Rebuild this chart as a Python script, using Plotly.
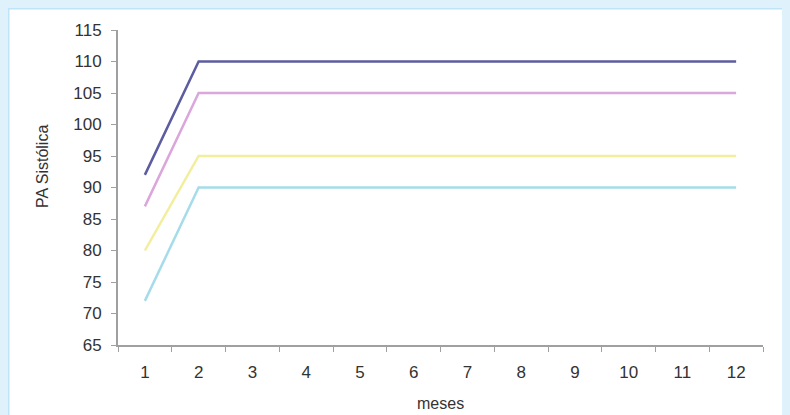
import plotly.graph_objects as go

meses = ["1", "2", "3", "4", "5", "6", "7", "8", "9", "10", "11", "12"]
serie_roxa = [92, 110, 110, 110, 110, 110, 110, 110, 110, 110, 110, 110]
serie_rosa = [87, 105, 105, 105, 105, 105, 105, 105, 105, 105, 105, 105]
serie_amarela = [80, 95, 95, 95, 95, 95, 95, 95, 95, 95, 95, 95]
serie_ciano = [72, 90, 90, 90, 90, 90, 90, 90, 90, 90, 90, 90]
y_ticks = [65, 70, 75, 80, 85, 90, 95, 100, 105, 110, 115]

# the page body keeps its 8px margin, so the figure starts at (8, 8)
W, H = 782, 407
ML, MR, MT, MB = 110, 27, 22, 70
FONT = "Liberation Sans, Arial, sans-serif"
TXT = "#333333"

fig = go.Figure()
for vals, col in [
    (serie_ciano, "#a6dcea"),
    (serie_amarela, "#f3ee9c"),
    (serie_rosa, "#dba6dc"),
    (serie_roxa, "#5c5ca0"),
]:
    fig.add_trace(go.Scatter(x=meses, y=vals, mode="lines",
                             line=dict(color=col, width=2.5),
                             hoverinfo="skip", showlegend=False))

pw, ph = W - ML - MR, H - MT - MB
def px_x(px):
    return (px - ML) / pw
def px_y(py):
    return (H - MB - py) / ph

fig.update_layout(
    width=W, height=H,
    margin=dict(l=ML, r=MR, t=MT, b=MB),
    paper_bgcolor="#ffffff",
    plot_bgcolor="rgba(0,0,0,0)",
    font=dict(family=FONT, size=17, color=TXT),
    showlegend=False,
    xaxis=dict(
        type="category", range=[-0.5, 11.5],
        showgrid=False, zeroline=False,
        showline=True, linecolor="#a0a0a0", linewidth=2,
        ticks="outside", tickson="boundaries", ticklen=5, tickwidth=1,
        tickcolor="#a0a0a0",
        tickfont=dict(size=17, color=TXT),
        ticklabelstandoff=11,
    ),
    yaxis=dict(
        range=[65, 115], tickvals=y_ticks,
        showgrid=False, zeroline=False,
        showline=True, linecolor="#a0a0a0", linewidth=2,
        ticks="outside", ticklen=5, tickwidth=1, tickcolor="#a0a0a0",
        tickfont=dict(size=17, color=TXT),
        ticklabelstandoff=6,
    ),
    shapes=[
        dict(type="rect", xref="paper", yref="paper",
             x0=px_x(0.5), x1=px_x(W + 20), y0=px_y(H + 20), y1=px_y(0.5),
             layer="below", line=dict(color="#bfe3f7", width=2),
             fillcolor="#ffffff"),
    ],
)

fig.add_annotation(text="PA Sistólica", xref="paper", yref="paper",
                   x=px_x(34), y=px_y(159), textangle=-90, showarrow=False,
                   font=dict(size=16, color=TXT),
                   xanchor="center", yanchor="middle")
fig.add_annotation(text="meses", xref="paper", yref="paper",
                   x=px_x(432), y=px_y(395), showarrow=False,
                   font=dict(size=16, color=TXT),
                   xanchor="center", yanchor="middle")

fig.write_html("out.html",
               post_script="document.body.style.background='#dff1fb';")
